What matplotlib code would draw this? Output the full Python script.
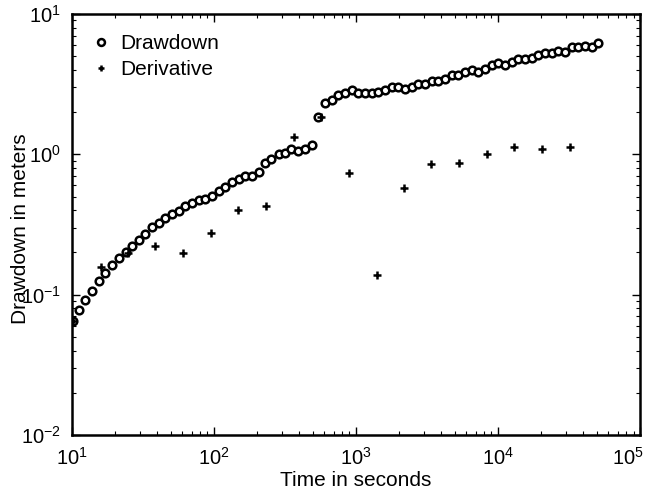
import matplotlib
matplotlib.use("Agg")
import matplotlib.pyplot as plt
import matplotlib.transforms as mtransforms

plt.rcParams['font.family'] = ['Liberation Sans', 'DejaVu Sans']
plt.rcParams['mathtext.fontset'] = 'custom'
plt.rcParams['mathtext.rm'] = 'Liberation Sans'

time_drawdown = [10.1, 11.2, 12.4, 13.8, 15.5, 17.2, 19.1, 21.5, 23.9, 26.3,
                 29.6, 32.8, 36.4, 40.8, 45.4, 50.6, 56.4, 62.8, 70.0, 78.0,
                 86.9, 96.8, 108, 120, 134, 149, 166, 185, 206, 228,
                 253, 286, 318, 350, 391, 440, 490, 543, 605, 674,
                 750, 837, 933, 1038, 1157, 1290, 1437, 1600, 1783, 1985,
                 2213, 2466, 2750, 3060, 3410, 3800, 4240, 4720, 5250, 5860,
                 6530, 7270, 8100, 9030, 10050, 11200, 12480, 13900, 15490, 17260,
                 19230, 21420, 23870, 26590, 29620, 33000, 36770, 40990, 45670, 50360]
drawdown = [0.065, 0.078, 0.092, 0.106, 0.125, 0.142, 0.163, 0.183, 0.200, 0.222,
            0.244, 0.269, 0.302, 0.322, 0.350, 0.375, 0.396, 0.428, 0.450, 0.475,
            0.478, 0.507, 0.547, 0.587, 0.632, 0.670, 0.704, 0.700, 0.751, 0.863,
            0.921, 1.00, 1.03, 1.085, 1.061, 1.096, 1.159, 1.85, 2.31, 2.44,
            2.65, 2.72, 2.87, 2.72, 2.72, 2.74, 2.79, 2.87, 3.03, 3.03,
            2.91, 3.00, 3.19, 3.17, 3.35, 3.35, 3.42, 3.67, 3.67, 3.88,
            3.99, 3.84, 4.04, 4.33, 4.45, 4.33, 4.57, 4.75, 4.75, 4.83,
            5.10, 5.30, 5.30, 5.48, 5.36, 5.79, 5.79, 5.91, 5.79, 6.24]

time_derivative = [10.1, 15.9, 24.7, 38.6, 60.8, 95.3, 148, 233, 364, 571,
                   897, 1400, 2180, 3390, 5330, 8410, 13000, 20400, 32000]
derivative = [0.065, 0.157, 0.197, 0.221, 0.199, 0.276, 0.399, 0.430, 1.335, 1.85,
              0.740, 0.138, 0.58, 0.853, 0.871, 1.005, 1.133, 1.09, 1.127]

x_ticks = [1e1, 1e2, 1e3, 1e4, 1e5]
x_ticklabels = ['$10^{1}$', '$10^{2}$', '$10^{3}$', '$10^{4}$', '$10^{5}$']

fig = plt.figure(figsize=(6.52, 4.94), dpi=100)
ax = fig.add_axes([0.1104, 0.1194, 0.8712, 0.8523])

ax.plot(time_drawdown, drawdown, linestyle='none', marker='o', markersize=5.5,
        markerfacecolor='white', markeredgecolor='black', markeredgewidth=1.8,
        label='Drawdown')
ax.plot(time_derivative, derivative, linestyle='none', marker='+', markersize=5.5,
        markeredgecolor='black', markeredgewidth=1.8, label='Derivative')

ax.set_xscale('log')
ax.set_yscale('log')
ax.set_xlim(10, 1e5)
ax.set_ylim(1e-2, 10)
ax.set_xticks(x_ticks)
ax.set_xticklabels(x_ticklabels)

for s in ax.spines.values():
    s.set_linewidth(1.8)

ax.tick_params(which='both', direction='in', top=True, right=True, labelsize=14.5)
ax.tick_params(axis='x', which='major', pad=8.5)
ax.tick_params(axis='y', which='major', pad=8)
ax.tick_params(which='major', length=6, width=1.0)
ax.tick_params(which='minor', length=3, width=0.8)

last = ax.xaxis.get_major_ticks()[-1].label1
last.set_horizontalalignment('right')
last.set_transform(last.get_transform() +
                   mtransforms.ScaledTranslation(4 / 100, 0, fig.dpi_scale_trans))

ax.set_xlabel('Time in seconds', fontsize=15)
ax.set_ylabel('Drawdown in meters', fontsize=15)
ax.xaxis.set_label_coords(0.5, -0.086)
ax.yaxis.set_label_coords(-0.074, 0.49)

ax.legend(loc='upper left', frameon=False, fontsize=15, handletextpad=0.2,
          borderaxespad=0.3, handlelength=1.4, labelspacing=0.35,
          bbox_to_anchor=(0.0, 0.987), markerscale=0.9)

fig.savefig('out.png', dpi=100)
